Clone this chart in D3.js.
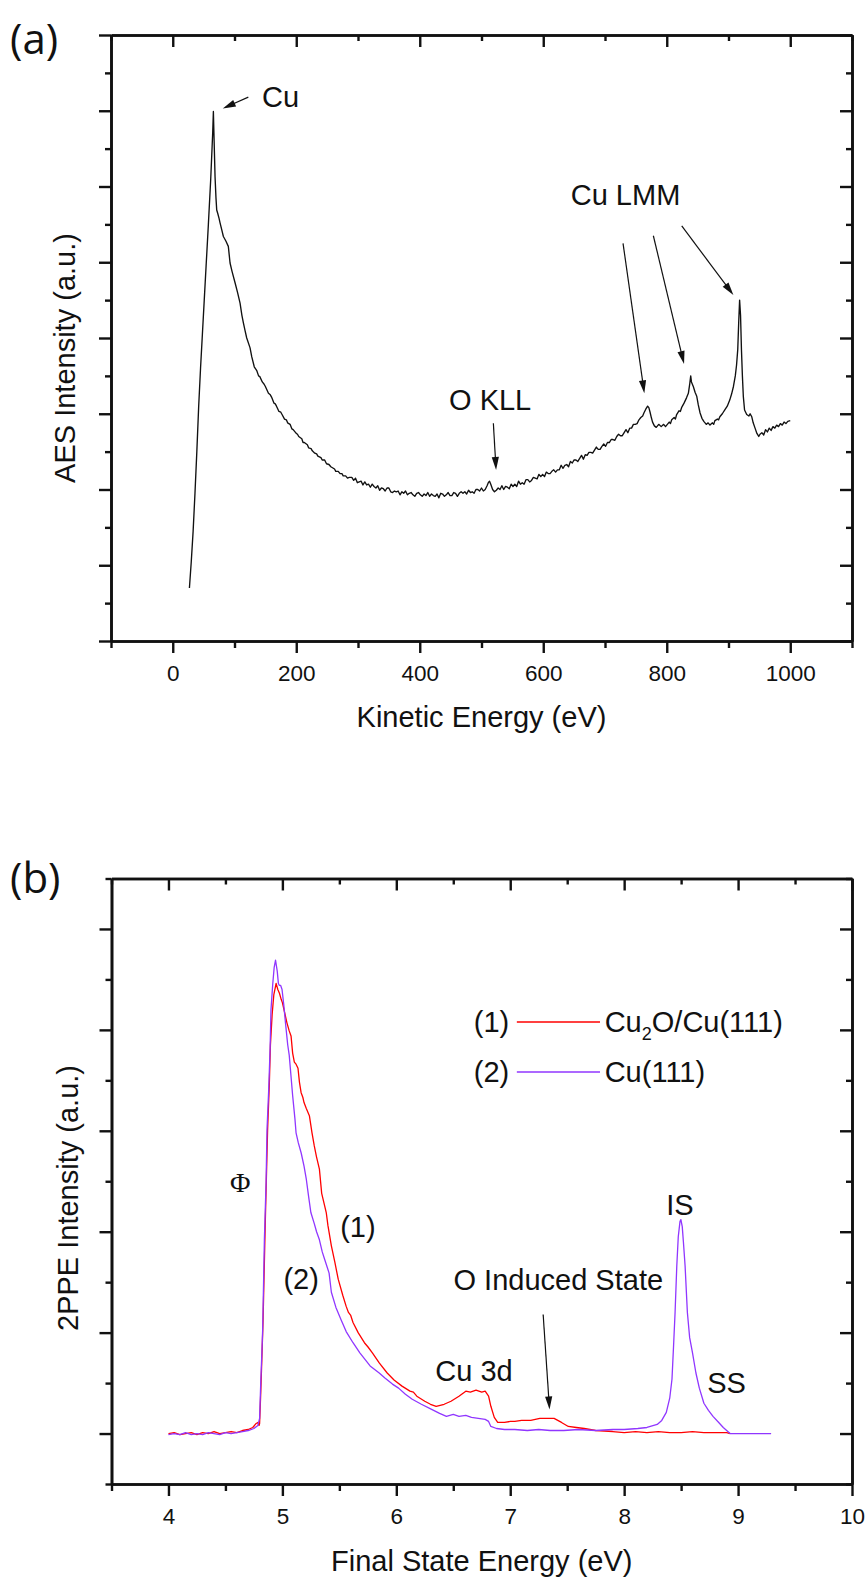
<!DOCTYPE html>
<html>
<head>
<meta charset="utf-8">
<script src="https://cdn.jsdelivr.net/npm/d3@7"></script>
<style>
  html, body { margin: 0; padding: 0; background: #fff; }
  svg { display: block; }
</style>
</head>
<body>
<script>
// ---------- (a) AES survey spectrum: [kinetic energy eV, intensity a.u.] ----------
const aesSpectrum = [
  [27,0.70],[30,1.05],[33,1.45],[36,1.95],[39,2.50],[42,3.10],[45,3.60],[48,4.05],[51,4.50],[54,4.95],
  [57.7,5.50],[61.5,6.10],[64.7,6.71],[65.8,6.99],[67,6.60],[68.5,6.13],[70,5.85],[71.2,5.69],[73,5.64],
  [75,5.58],[76.6,5.52],[79,5.44],[82,5.34],[86,5.28],[90,5.21],[92.8,4.99],[96,4.88],[100.9,4.73],
  [105,4.60],[109,4.46],[112,4.30],[114.4,4.20],[117,4.10],[119.8,4.00],[125.2,3.87],[128,3.75],
  [132,3.62],[136,3.57],[139,3.50],[141,3.49],[145,3.42],[148,3.39],[150,3.36],[155,3.27],[158,3.25],
  [160,3.22],[164,3.14],[166,3.13],[168,3.10],[172,3.03],[175,3.02],[177,2.99],[181,2.93],[184,2.92],
  [186,2.88],[190,2.86],[193,2.80],[195,2.79],[200,2.74],[202,2.73],[204,2.70],[209,2.67],[211,2.62],
  [213,2.62],[218,2.59],[220,2.55],[224,2.54],[226,2.51],[230,2.48],[233,2.47],[235,2.44],[240,2.42],
  [242,2.39],[246,2.39],[249,2.34],[253,2.33],[256,2.30],[258,2.29],[262,2.27],[264,2.24],[268,2.24],
  [271,2.21],[274,2.21],[276,2.18],[280,2.18],[283,2.15],[286,2.16],
  [290,2.16],[293,2.12],[296,2.15],[299,2.09],[302,2.10],[305,2.11],[308,2.06],[311,2.10],[314,2.06],
  [317,2.07],[320,2.03],[323,2.07],[326,2.04],[329,2.02],[332,2.05],[335,1.99],[338,2.02],[341,2.01],
  [344,1.98],[347,2.02],[350,2.02],[353,1.97],[356,1.96],[359,1.98],[362,1.97],[365,1.98],[368,1.93],
  [371,1.97],[374,1.95],[377,1.98],[380,1.93],[383,1.95],[386,1.96],[389,1.93],[392,1.91],[395,1.95],
  [398,1.96],[401,1.93],[404,1.91],[407,1.94],[410,1.92],[413,1.96],[416,1.91],[419,1.94],[422,1.92],
  [425,1.91],[428,1.94],[431,1.89],[434,1.95],[437,1.94],[440,1.91],[443,1.93],[446,1.96],[449,1.92],
  [452,1.92],[455,1.96],[458,1.95],[461,1.91],[464,1.95],[467,1.97],[470,1.95],[473,1.97],[476,1.94],
  [479,1.99],[482,1.96],[485,1.97],[488,1.95],[491,2.00],[494,2.00],[497,1.98],[500,2.02],[503,1.98],
  [506,2.00],[509,2.05],[511,2.09],[513,2.11],[515,2.07],[518,2.00],[521,1.97],[524,1.99],[527,2.02],
  [530,2.00],[533,2.05],[536,2.00],[539,2.04],[542,2.03],[545,2.01],[548,2.07],[551,2.04],[554,2.07],
  [557,2.04],[560,2.11],[563,2.07],[566,2.09],[569,2.07],[572,2.13],[575,2.13],[578,2.10],[581,2.12],
  [584,2.16],[587,2.15],[590,2.14],[593,2.20],[596,2.17],[599,2.20],[602,2.17],[605,2.23],[608,2.21],
  [611,2.21],[614,2.24],[617,2.26],[620,2.23],[623,2.26],[626,2.26],[629,2.32],[632,2.28],[635,2.32],
  [638,2.33],[641,2.30],[644,2.37],[647,2.35],[650,2.39],[653,2.39],[656,2.37],[659,2.41],[662,2.45],
  [665,2.40],[668,2.46],[671,2.45],[674,2.49],[677,2.49],[680,2.48],[683,2.52],[686,2.56],[689,2.53],
  [692,2.53],[695,2.57],[698,2.60],[701,2.57],[704,2.62],[707,2.62],[710,2.66],[713,2.66],[716,2.65],
  [719,2.70],[722,2.73],[725,2.71],[728,2.71],[731,2.75],[734,2.79],[737,2.75],[740,2.81],[743,2.81],
  [746,2.86],[749,2.86],[752,2.87],[755,2.92],[758,2.95],[761,2.97],[763,3.01],[766,3.06],[769,3.10],
  [771,3.08],[773,3.02],[775,2.95],[777,2.89],[780,2.84],[783,2.82],[787,2.86],[791,2.83],[795,2.86],
  [798,2.83],[800,2.85],[804,2.89],[806,2.87],[808,2.92],[812,2.95],[814,2.93],[816,2.99],[820,3.04],
  [822,3.03],[824,3.08],[828,3.14],[832,3.21],[835,3.27],[837,3.38],[838.8,3.50],[840,3.42],[843,3.36],
  [846,3.28],[848.6,3.23],[851,3.12],[854,3.01],[857,2.94],[860,2.90],[864,2.86],[867,2.88],[870,2.85],
  [874,2.88],[876,2.86],[878,2.91],[882,2.93],[884,2.92],[886,2.96],[890,3.00],[894,3.05],[898,3.10],
  [902,3.18],[905,3.26],[908,3.36],[911,3.50],[913,3.64],[915,3.85],[916.5,4.20],[918,4.50],[919.5,4.30],
  [921,3.84],[922.5,3.50],[924,3.23],[926,3.05],[929.5,2.99],[933,2.97],[935,3.00],[937.7,2.96],[940,2.88],
  [943,2.81],[946,2.74],[949,2.70],[951,2.73],[954,2.75],[957,2.72],[960,2.79],[963,2.76],[966,2.81],
  [969,2.78],[972,2.83],[975,2.81],[978,2.85],[981,2.83],[984,2.87],[987,2.85],[990,2.89],[993,2.87],
  [996,2.90],[1000,2.91]
];
const aesMajorTicks = [0, 200, 400, 600, 800, 1000];
const aesMinorTicks = [-100, 100, 300, 500, 700, 900, 1100];
const aesYMajor = [0, 1, 2, 3, 4, 5, 6, 7, 8];
const aesYMinor = [0.5, 1.5, 2.5, 3.5, 4.5, 5.5, 6.5, 7.5];

// peak labels for (a): text anchor and arrows in data units
const aesLabels = [
  { text: "Cu",     x: 144.6, y: 7.05 },
  { text: "O KLL",  x: 447.4, y: 3.05 },
  { text: "Cu LMM", x: 644.5, y: 5.756 }
];
const aesArrows = [
  { from: [122.4, 7.18], to: [81.0, 7.03] },
  { from: [519.2, 2.874], to: [523.6, 2.257] },
  { from: [729.2, 5.25], to: [763.7, 3.27] },
  { from: [778.3, 5.35], to: [828.0, 3.657] },
  { from: [824.3, 5.479], to: [907.9, 4.568] }
];

// ---------- (b) 2PPE spectra: [final state energy eV, intensity a.u.] ----------
const cu2oSpectrum = [
  [4.00,0.00],[4.05,0.01],[4.10,-0.01],[4.15,0.00],[4.20,0.01],[4.25,-0.01],[4.30,0.01],[4.35,0.00],
  [4.40,0.02],[4.45,0.00],[4.50,0.01],[4.55,0.02],[4.60,0.01],[4.65,0.03],[4.70,0.04],[4.74,0.06],
  [4.77,0.10],[4.785,0.11],[4.795,0.08],[4.80,0.10],[4.81,0.40],[4.82,0.75],[4.83,1.10],[4.84,1.60],
  [4.85,2.10],[4.86,2.55],[4.87,3.00],[4.885,3.45],[4.895,3.85],[4.91,4.15],[4.925,4.35],[4.945,4.46],
  [4.96,4.40],[4.975,4.36],[4.99,4.30],[5.00,4.27],[5.02,4.17],[5.04,4.07],[5.06,3.99],[5.076,3.94],
  [5.09,3.77],[5.105,3.68],[5.12,3.66],[5.137,3.62],[5.15,3.48],[5.164,3.38],[5.18,3.33],[5.19,3.28],
  [5.21,3.22],[5.237,3.15],[5.26,2.98],[5.28,2.85],[5.30,2.74],[5.325,2.62],[5.345,2.38],[5.37,2.26],
  [5.385,2.19],[5.40,2.06],[5.43,1.86],[5.46,1.70],[5.49,1.53],[5.53,1.37],[5.56,1.26],[5.58,1.20],
  [5.60,1.17],[5.62,1.10],[5.665,1.00],[5.72,0.90],[5.75,0.86],[5.79,0.80],[5.85,0.70],[5.92,0.60],
  [5.98,0.53],[6.05,0.47],[6.12,0.42],[6.15,0.41],[6.18,0.37],[6.25,0.32],[6.30,0.29],[6.35,0.27],
  [6.42,0.29],[6.48,0.32],[6.55,0.37],[6.61,0.42],[6.65,0.41],[6.70,0.43],[6.75,0.41],[6.78,0.42],
  [6.81,0.37],[6.83,0.27],[6.86,0.16],[6.89,0.11],[6.95,0.11],[7.00,0.12],[7.04,0.12],[7.10,0.13],
  [7.18,0.13],[7.26,0.15],[7.33,0.15],[7.385,0.15],[7.45,0.11],[7.51,0.07],[7.58,0.06],[7.65,0.05],
  [7.75,0.03],[7.90,0.02],[8.00,0.01],[8.10,0.02],[8.20,0.01],[8.30,0.02],[8.40,0.01],[8.50,0.01],
  [8.60,0.02],[8.70,0.01],[8.80,0.01],[8.90,0.01],[8.93,0.00]
];
const cuSpectrum = [
  [4.00,-0.01],[4.05,0.00],[4.10,-0.01],[4.15,0.01],[4.20,-0.01],[4.25,0.00],[4.30,-0.01],[4.35,0.01],
  [4.40,0.00],[4.45,-0.01],[4.50,0.01],[4.55,0.00],[4.60,0.01],[4.65,0.02],[4.70,0.03],[4.75,0.05],
  [4.785,0.08],[4.80,0.15],[4.81,0.50],[4.82,0.80],[4.827,1.03],[4.835,1.50],[4.842,1.92],[4.857,2.49],
  [4.865,3.01],[4.88,3.41],[4.892,3.81],[4.90,4.20],[4.915,4.45],[4.928,4.62],[4.94,4.69],[4.955,4.58],
  [4.965,4.46],[4.974,4.44],[4.985,4.44],[4.997,4.40],[5.012,4.25],[5.027,4.07],[5.047,3.85],[5.06,3.75],
  [5.075,3.55],[5.09,3.35],[5.11,3.12],[5.12,2.98],[5.14,2.88],[5.165,2.78],[5.19,2.65],[5.21,2.52],
  [5.23,2.35],[5.25,2.19],[5.28,2.08],[5.30,2.00],[5.325,1.92],[5.35,1.80],[5.37,1.73],[5.41,1.59],
  [5.43,1.40],[5.47,1.25],[5.514,1.13],[5.56,1.01],[5.62,0.90],[5.68,0.80],[5.77,0.67],[5.85,0.60],
  [5.90,0.55],[5.966,0.49],[6.02,0.45],[6.08,0.39],[6.14,0.34],[6.22,0.29],[6.31,0.24],[6.38,0.20],
  [6.44,0.17],[6.50,0.19],[6.55,0.17],[6.61,0.18],[6.66,0.16],[6.72,0.15],[6.78,0.14],[6.81,0.12],
  [6.83,0.07],[6.88,0.05],[6.95,0.04],[7.04,0.04],[7.15,0.03],[7.25,0.04],[7.35,0.03],[7.47,0.03],
  [7.60,0.04],[7.75,0.03],[7.90,0.04],[8.00,0.04],[8.12,0.05],[8.20,0.06],[8.29,0.09],[8.33,0.13],
  [8.37,0.21],[8.40,0.35],[8.42,0.54],[8.435,0.90],[8.447,1.20],[8.462,1.66],[8.475,1.95],[8.49,2.10],
  [8.498,2.12],[8.51,2.05],[8.52,1.90],[8.535,1.66],[8.555,1.20],[8.575,0.95],[8.60,0.80],[8.63,0.60],
  [8.66,0.45],[8.70,0.30],[8.74,0.23],[8.78,0.17],[8.83,0.11],[8.87,0.06],[8.90,0.03],[8.93,0.00],
  [9.00,0.00],[9.10,0.00],[9.20,0.00],[9.29,0.00]
];
const ppeMajorTicks = [4, 5, 6, 7, 8, 9, 10];
const ppeMinorTicks = [3.5, 4.5, 5.5, 6.5, 7.5, 8.5, 9.5];
const ppeYMajor = [0, 1, 2, 3, 4, 5];
const ppeYMinor = [-0.5, 0.5, 1.5, 2.5, 3.5, 4.5, 5.5];

const ppeLabels = [
  { text: "(1)", x: 5.507, y: 1.952 },
  { text: "(2)", x: 5.009, y: 1.437 },
  { text: "O Induced State", x: 6.502, y: 1.427 },
  { text: "Cu 3d", x: 6.342, y: 0.518 },
  { text: "IS", x: 8.369, y: 2.17 },
  { text: "SS", x: 8.729, y: 0.406 }
];
const ppeArrows = [ { from: [7.289, 1.179], to: [7.345, 0.238] } ];
const legendRows = [
  { tag: "(1)", name: ["Cu", "2", "O/Cu(111)"], color: "#ff0000", y: 3.974 },
  { tag: "(2)", name: ["Cu(111)"], color: "#9036ff", y: 3.479 }
];

// ---------- drawing ----------
const SANS = "'Liberation Sans', Arial, Helvetica, sans-serif";
const INK = "#111";
const svg = d3.select("body").append("svg").attr("width", 868).attr("height", 1580);

function note(g, x, y, text, size) {
  return g.append("text").attr("x", x).attr("y", y)
    .attr("font-family", SANS).attr("font-size", size || 29).attr("fill", INK).text(text);
}

function arrow(g, x1, y1, x2, y2) {
  const dx = x2 - x1, dy = y2 - y1, len = Math.hypot(dx, dy);
  const ux = dx / len, uy = dy / len, hl = 13, hw = 3.6;
  const bx = x2 - ux * hl, by = y2 - uy * hl;
  g.append("line").attr("x1", x1).attr("y1", y1).attr("x2", bx + ux * 2).attr("y2", by + uy * 2)
    .attr("stroke", INK).attr("stroke-width", 1.2);
  g.append("path")
    .attr("d", `M${x2},${y2}L${bx - uy * hw},${by + ux * hw}L${bx + uy * hw},${by - ux * hw}Z`)
    .attr("fill", INK);
}

function frame(g, x, y, xMajor, xMinor, yMajor, yMinor, fmt) {
  const [x0, x1] = x.range(), [y0, y1] = y.range();
  const style = sel => {
    sel.selectAll("path.domain").attr("stroke", INK).attr("stroke-width", 2.6);
    sel.selectAll(".tick line").attr("stroke", INK).attr("stroke-width", 2.4);
    sel.selectAll(".tick text").attr("fill", INK).attr("font-family", SANS).attr("font-size", 22.5);
  };
  // bottom (labelled, outward)
  g.append("g").attr("transform", `translate(0,${y0})`)
    .call(d3.axisBottom(x).tickValues(xMajor).tickSize(12).tickSizeOuter(0).tickPadding(12).tickFormat(fmt))
    .call(style);
  g.append("g").attr("transform", `translate(0,${y0})`)
    .call(d3.axisBottom(x).tickValues(xMinor).tickSize(7).tickSizeOuter(0).tickFormat(""))
    .call(style);
  // top (inward)
  g.append("g").attr("transform", `translate(0,${y1})`)
    .call(d3.axisTop(x).tickValues(xMajor).tickSize(-12).tickSizeOuter(0).tickFormat(""))
    .call(style);
  g.append("g").attr("transform", `translate(0,${y1})`)
    .call(d3.axisTop(x).tickValues(xMinor).tickSize(-6).tickSizeOuter(0).tickFormat(""))
    .call(style);
  // left (outward, unlabelled)
  g.append("g").attr("transform", `translate(${x0},0)`)
    .call(d3.axisLeft(y).tickValues(yMajor).tickSize(12).tickSizeOuter(0).tickFormat(""))
    .call(style);
  g.append("g").attr("transform", `translate(${x0},0)`)
    .call(d3.axisLeft(y).tickValues(yMinor).tickSize(6).tickSizeOuter(0).tickFormat(""))
    .call(style);
  // right (inward)
  g.append("g").attr("transform", `translate(${x1},0)`)
    .call(d3.axisRight(y).tickValues(yMajor).tickSize(-12).tickSizeOuter(0).tickFormat(""))
    .call(style);
  g.append("g").attr("transform", `translate(${x1},0)`)
    .call(d3.axisRight(y).tickValues(yMinor).tickSize(-6).tickSizeOuter(0).tickFormat(""))
    .call(style);
}

// ----- panel (a) -----
const xa = d3.scaleLinear().domain([-100, 1100]).range([111, 852]);
const ya = d3.scaleLinear().domain([0, 8]).range([641, 35]);
const ga = svg.append("g");
ga.append("path").datum(aesSpectrum)
  .attr("d", d3.line().x(d => xa(d[0])).y(d => ya(d[1])))
  .attr("fill", "none").attr("stroke", INK).attr("stroke-width", 1.35).attr("stroke-linejoin", "round");
frame(ga, xa, ya, aesMajorTicks, aesMinorTicks, aesYMajor, aesYMinor, d3.format("d"));
aesLabels.forEach(d => note(ga, xa(d.x), ya(d.y), d.text));
aesArrows.forEach(a => arrow(ga, xa(a.from[0]), ya(a.from[1]), xa(a.to[0]), ya(a.to[1])));
note(ga, (xa.range()[0] + xa.range()[1]) / 2, 727, "Kinetic Energy (eV)").attr("text-anchor", "middle");
note(ga, 0, 0, "AES Intensity (a.u.)").attr("x", null).attr("y", null)
  .attr("text-anchor", "middle").attr("transform", "translate(75,358) rotate(-90)");
ga.append("text").attr("x", 10).attr("y", 54)
  .attr("font-family", "'Open Sans', 'Noto Sans', sans-serif").attr("font-size", 42).attr("fill", INK)
  .text("(a)");

// ----- panel (b) -----
const xb = d3.scaleLinear().domain([3.5, 10]).range([111.5, 852]);
const yb = d3.scaleLinear().domain([-0.5, 5.5]).range([1484, 878.5]);
const gb = svg.append("g");
const lineB = d3.line().x(d => xb(d[0])).y(d => yb(d[1]));
gb.append("path").datum(cu2oSpectrum).attr("d", lineB)
  .attr("fill", "none").attr("stroke", "#ff0000").attr("stroke-width", 1.3).attr("stroke-linejoin", "round");
gb.append("path").datum(cuSpectrum).attr("d", lineB)
  .attr("fill", "none").attr("stroke", "#9036ff").attr("stroke-width", 1.3).attr("stroke-linejoin", "round");
frame(gb, xb, yb, ppeMajorTicks, ppeMinorTicks, ppeYMajor, ppeYMinor, d3.format("d"));
ppeLabels.forEach(d => note(gb, xb(d.x), yb(d.y), d.text));
gb.append("text").attr("x", xb(4.54)).attr("y", yb(2.39))
  .attr("font-family", "'Liberation Serif', 'DejaVu Serif', serif").attr("font-size", 28).attr("fill", INK)
  .text("Φ");
ppeArrows.forEach(a => arrow(gb, xb(a.from[0]), yb(a.from[1]), xb(a.to[0]), yb(a.to[1])));

// legend
legendRows.forEach(r => {
  note(gb, xb(6.68), yb(r.y), r.tag);
  gb.append("line").attr("x1", xb(7.058)).attr("x2", xb(7.788))
    .attr("y1", yb(r.y) - 10.5).attr("y2", yb(r.y) - 10.5)
    .attr("stroke", r.color).attr("stroke-width", 1.6);
  const t = note(gb, xb(7.829), yb(r.y), null);
  r.name.forEach((s, i) => {
    const ts = t.append("tspan").text(s);
    if (r.name.length > 1 && i === 1) ts.attr("font-size", 18).attr("dy", 8);
    if (r.name.length > 1 && i === 2) ts.attr("dy", -8);
  });
});

note(gb, (xb.range()[0] + xb.range()[1]) / 2, 1571, "Final State Energy (eV)").attr("text-anchor", "middle");
note(gb, 0, 0, "2PPE Intensity (a.u.)").attr("x", null).attr("y", null)
  .attr("text-anchor", "middle").attr("transform", "translate(78,1198) rotate(-90)");
gb.append("text").attr("x", 10).attr("y", 893)
  .attr("font-family", "'Open Sans', 'Noto Sans', sans-serif").attr("font-size", 42).attr("fill", INK)
  .text("(b)");
</script>
</body>
</html>
